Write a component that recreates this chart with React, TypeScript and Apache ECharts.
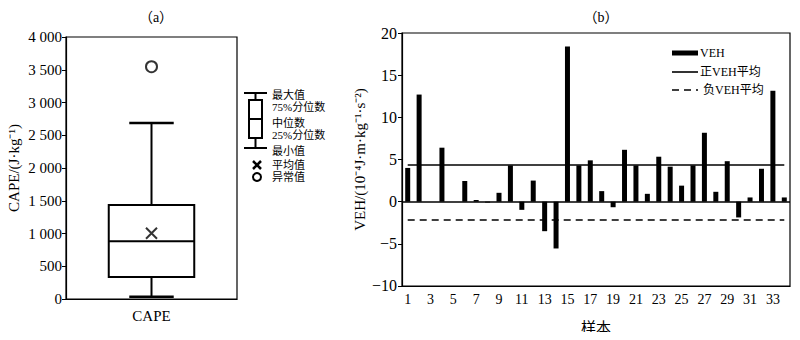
import React, { useEffect, useRef } from 'react';
import * as echarts from 'echarts';

// ---- data (a) ----
const capeCategories = ['CAPE'];
// min, Q1, median, Q3, max
const capeBox = [35, 336, 881, 1435, 2687];
const capeMean = [1003];
const capeOutliers = [3546];

// ---- data (b) ----
const sampleLabels = ['1','2','3','4','5','6','7','8','9','10','11','12','13','14','15','16','17','18','19','20','21','22','23','24','25','26','27','28','29','30','31','32','33','34'];
const vehValues = [4.0, 12.7, 0, 6.4, 0, 2.45, 0.2, -0.1, 1.05, 4.3, -0.97, 2.5, -3.5, -5.55, 18.4, 4.3, 4.9, 1.25, -0.66, 6.15, 4.3, 0.93, 5.33, 4.15, 1.9, 4.3, 8.17, 1.17, 4.8, -1.87, 0.5, 3.9, 13.15, 0.5];
const vehPosMean = 4.32;
const vehNegMean = -2.1;

const SERIF = "'Liberation Serif', 'Times New Roman', 'Noto Sans CJK SC', serif";

function fmtThousands(v: number) {
  if (Math.abs(v) >= 1000) {
    const k = Math.floor(v / 1000);
    const r = String(v % 1000).padStart(3, '0');
    return k + ' ' + r;
  }
  return String(v);
}

export default function App() {
  const ref = useRef<HTMLDivElement>(null);
  useEffect(() => {
    const chart = echarts.init(ref.current!, null, { renderer: 'svg' });
    const black = '#000';
    const txt = { fontFamily: SERIF, fill: black, fontSize: 11 };
    const txtB = { fontFamily: SERIF, fill: black, fontSize: 12 };
    const option: any = {
      animation: false,
      backgroundColor: '#fff',
      textStyle: { fontFamily: SERIF, color: black },
      title: [
        { text: '（a）', left: 151, top: 5, textAlign: 'center', textStyle: { fontSize: 14, fontWeight: 'normal', fontFamily: SERIF, color: black } },
        { text: '（b）', left: 596, top: 5, textAlign: 'center', textStyle: { fontSize: 14, fontWeight: 'normal', fontFamily: SERIF, color: black } },
      ],
      grid: [
        { left: 66, top: 37, width: 171, height: 262, show: true, borderColor: black, borderWidth: 1.2, backgroundColor: 'transparent' },
        { left: 402, top: 33, width: 388, height: 257, show: true, borderColor: black, borderWidth: 1.2, backgroundColor: 'transparent' },
      ],
      xAxis: [
        {
          gridIndex: 0, type: 'category', data: capeCategories,
          axisLine: { lineStyle: { color: black, width: 1.2 } },
          axisTick: { alignWithLabel: true, length: 5, lineStyle: { color: black } },
          axisLabel: { color: black, fontSize: 15, fontFamily: SERIF, margin: 9 },
          splitLine: { show: false },
        },
        {
          gridIndex: 1, type: 'category', data: sampleLabels,
          axisLine: { onZero: false, lineStyle: { color: black, width: 1.2 } },
          axisTick: { interval: 0, length: 4, lineStyle: { color: black } },
          axisLabel: { interval: 1, color: black, fontSize: 14, fontFamily: SERIF, margin: 7 },
          name: '样本', nameLocation: 'middle', nameGap: 34,
          nameTextStyle: { fontSize: 15, color: black, fontFamily: SERIF },
          splitLine: { show: false },
        },
      ],
      yAxis: [
        {
          gridIndex: 0, type: 'value', min: 0, max: 4000, interval: 500,
          axisLine: { show: true, lineStyle: { color: black, width: 1.2 } },
          axisTick: { show: true, length: 4, lineStyle: { color: black } },
          axisLabel: { color: black, fontSize: 15, fontFamily: SERIF, margin: 4, formatter: fmtThousands },
          splitLine: { show: false },
        },
        {
          gridIndex: 1, type: 'value', min: -10, max: 20, interval: 5,
          axisLine: { show: true, lineStyle: { color: black, width: 1.2 } },
          axisTick: { show: true, length: 4, lineStyle: { color: black } },
          axisLabel: { color: black, fontSize: 16, fontFamily: SERIF, margin: 5, formatter: (v: number) => (v < 0 ? '−' + Math.abs(v) : String(v)) },
          splitLine: { show: false },
          name: 'VEH/(10⁻⁴J·m·kg⁻¹·s⁻²)', nameLocation: 'middle', nameGap: 35, nameRotate: 90,
          nameTextStyle: { fontSize: 15, color: black, fontFamily: SERIF },
        },
      ],
      series: [
        {
          type: 'custom', xAxisIndex: 0, yAxisIndex: 0,
          data: [[0, ...capeBox]],
          encode: { x: 0, y: [1, 2, 3, 4, 5] },
          renderItem: (params: any, api: any) => {
            const x = api.value(0);
            const pMin = api.coord([x, api.value(1)]);
            const pQ1 = api.coord([x, api.value(2)]);
            const pMed = api.coord([x, api.value(3)]);
            const pQ3 = api.coord([x, api.value(4)]);
            const pMax = api.coord([x, api.value(5)]);
            const band = api.size([1, 0])[0];
            const bh = band * 0.25;
            const ch = band * 0.13;
            const cx = pMin[0];
            const ls = { stroke: black, lineWidth: 2, fill: 'none' };
            return {
              type: 'group',
              children: [
                { type: 'rect', shape: { x: cx - bh, y: pQ3[1], width: bh * 2, height: pQ1[1] - pQ3[1] }, style: { stroke: black, lineWidth: 2, fill: 'none' } },
                { type: 'line', shape: { x1: cx - bh, y1: pMed[1], x2: cx + bh, y2: pMed[1] }, style: ls },
                { type: 'line', shape: { x1: cx, y1: pQ3[1], x2: cx, y2: pMax[1] }, style: ls },
                { type: 'line', shape: { x1: cx, y1: pQ1[1], x2: cx, y2: pMin[1] }, style: ls },
                { type: 'line', shape: { x1: cx - ch, y1: pMax[1], x2: cx + ch, y2: pMax[1] }, style: { ...ls, lineWidth: 2.5 } },
                { type: 'line', shape: { x1: cx - ch, y1: pMin[1], x2: cx + ch, y2: pMin[1] }, style: { ...ls, lineWidth: 2.5 } },
              ],
            };
          },
          z: 3,
        },
        {
          type: 'scatter', xAxisIndex: 0, yAxisIndex: 0,
          data: capeMean.map((v) => [0, v]),
          symbol: 'path://M0,0L10,10M10,0L0,10',
          symbolSize: 11,
          itemStyle: { color: 'none', borderColor: black, borderWidth: 2 },
          z: 4,
        },
        {
          type: 'scatter', xAxisIndex: 0, yAxisIndex: 0,
          data: capeOutliers.map((v) => [0, v]),
          symbol: 'circle', symbolSize: 11,
          itemStyle: { color: '#fff', borderColor: black, borderWidth: 2 },
          z: 4,
        },
        {
          type: 'bar', xAxisIndex: 1, yAxisIndex: 1,
          data: vehValues, barWidth: 5,
          itemStyle: { color: black },
          markLine: {
            silent: true, symbol: 'none', label: { show: false },
            data: [
              [{ coord: [0, 0], x: 402 }, { coord: [33, 0], x: 790 }],
              [{ coord: [0, vehPosMean] }, { coord: [33, vehPosMean] }],
              [{ coord: [0, vehNegMean], lineStyle: { type: [7, 5] } }, { coord: [33, vehNegMean] }],
            ],
            lineStyle: { color: black, width: 1.6, type: 'solid' },
          },
        },
      ],
      graphic: [
        // y-axis name (a)
        { type: 'text', x: 14, y: 168, rotation: Math.PI / 2, style: { fontFamily: SERIF, fill: black, fontSize: 15, text: 'CAPE/(J·kg⁻¹)', align: 'center', verticalAlign: 'middle' } },
        // legend (a)
        { type: 'line', shape: { x1: 244, y1: 93, x2: 267, y2: 93 }, style: { stroke: black, lineWidth: 2 } },
        { type: 'line', shape: { x1: 255.5, y1: 93, x2: 255.5, y2: 100 }, style: { stroke: black, lineWidth: 2 } },
        { type: 'rect', shape: { x: 249, y: 100, width: 13, height: 38 }, style: { stroke: black, lineWidth: 2, fill: 'none' } },
        { type: 'line', shape: { x1: 249, y1: 119, x2: 262, y2: 119 }, style: { stroke: black, lineWidth: 2 } },
        { type: 'line', shape: { x1: 255.5, y1: 138, x2: 255.5, y2: 148 }, style: { stroke: black, lineWidth: 2 } },
        { type: 'line', shape: { x1: 244, y1: 148, x2: 267, y2: 148 }, style: { stroke: black, lineWidth: 2 } },
        { type: 'line', shape: { x1: 253, y1: 161, x2: 261, y2: 169 }, style: { stroke: black, lineWidth: 2.5 } },
        { type: 'line', shape: { x1: 261, y1: 161, x2: 253, y2: 169 }, style: { stroke: black, lineWidth: 2.5 } },
        { type: 'circle', shape: { cx: 257, cy: 177, r: 4 }, style: { stroke: black, lineWidth: 2, fill: '#fff' } },
        { type: 'text', x: 272, y: 95, style: { ...txt, text: '最大值', verticalAlign: 'middle' } },
        { type: 'text', x: 272, y: 107, style: { ...txt, text: '75%分位数', verticalAlign: 'middle' } },
        { type: 'text', x: 272, y: 123, style: { ...txt, text: '中位数', verticalAlign: 'middle' } },
        { type: 'text', x: 272, y: 135, style: { ...txt, text: '25%分位数', verticalAlign: 'middle' } },
        { type: 'text', x: 272, y: 151, style: { ...txt, text: '最小值', verticalAlign: 'middle' } },
        { type: 'text', x: 272, y: 165, style: { ...txt, text: '平均值', verticalAlign: 'middle' } },
        { type: 'text', x: 272, y: 177, style: { ...txt, text: '异常值', verticalAlign: 'middle' } },
        // legend (b)
        { type: 'rect', shape: { x: 672, y: 50.5, width: 26, height: 5 }, style: { fill: black } },
        { type: 'text', x: 700, y: 53, style: { ...txtB, text: 'VEH', verticalAlign: 'middle' } },
        { type: 'line', shape: { x1: 672, y1: 72, x2: 698, y2: 72 }, style: { stroke: black, lineWidth: 1.6 } },
        { type: 'text', x: 700, y: 72, style: { ...txtB, text: '正VEH平均', verticalAlign: 'middle' } },
        { type: 'line', shape: { x1: 672, y1: 90, x2: 698, y2: 90 }, style: { stroke: black, lineWidth: 1.6, lineDash: [7, 5] } },
        { type: 'text', x: 703, y: 90, style: { ...txtB, text: '负VEH平均', verticalAlign: 'middle' } },
      ],
    };
    chart.setOption(option);
    return () => chart.dispose();
  }, []);
  return <div ref={ref} style={{ width: 800, height: 340, margin: -8 }} />;
}
